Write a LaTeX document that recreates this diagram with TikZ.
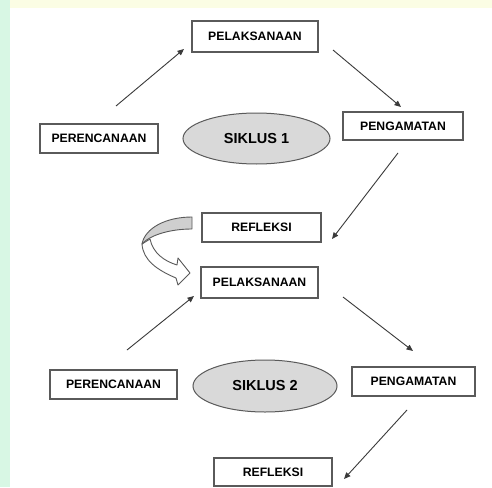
\documentclass[tikz,border=0pt]{standalone}
\usepackage{fontspec}
\setmainfont{Liberation Sans}
\usetikzlibrary{arrows.meta,shapes.geometric}
\definecolor{boxline}{HTML}{5A5A5A}
\definecolor{arrline}{HTML}{3A3A3A}
\definecolor{ellfill}{HTML}{D9D9D9}
\definecolor{topstrip}{HTML}{FBFDE4}
\definecolor{leftstrip}{HTML}{D8F7E4}
\definecolor{ribbon}{HTML}{CFCFCF}
\tikzset{
  stagebox/.style={draw=boxline, line width=1.1pt, fill=white, inner sep=0pt,
    font=\fontsize{12.2}{13}\selectfont\bfseries},
  cycle/.style={ellipse, draw=boxline, line width=1pt, fill=ellfill, inner sep=0pt,
    font=\fontsize{14.5}{16}\selectfont\bfseries},
  flow/.style={draw=arrline, line width=0.9pt, -{Triangle[length=6.5pt,width=5.5pt]}},
  turn/.style={draw=boxline, line width=0.9pt, line join=round}
}
\begin{document}
\begin{tikzpicture}[x=1pt,y=-1pt]
\useasboundingbox (0,0) rectangle (492,487);
\fill[white] (0,0) rectangle (492,487);
\fill[topstrip] (0,0) rectangle (492,8);
\fill[leftstrip] (0,0) rectangle (10,487);

% cycle 1
\node[stagebox, minimum width=126pt, minimum height=31pt] (pel1) at (255,36.5) {PELAKSANAAN};
\node[stagebox, minimum width=118pt, minimum height=29pt] (per1) at (99,138.5) {PERENCANAAN};
\node[stagebox, minimum width=120pt, minimum height=28pt] (peng1) at (403,126) {PENGAMATAN};
\node[stagebox, minimum width=119pt, minimum height=29pt] (ref1) at (261.5,227.5) {REFLEKSI};
\node[cycle, minimum width=147pt, minimum height=51pt] (sik1) at (256.5,138.5) {SIKLUS 1};

% cycle 2
\node[stagebox, minimum width=117pt, minimum height=31pt] (pel2) at (259.5,282.5) {PELAKSANAAN};
\node[stagebox, minimum width=127pt, minimum height=29pt] (per2) at (113.5,384.5) {PERENCANAAN};
\node[stagebox, minimum width=123pt, minimum height=29pt] (peng2) at (413.5,381.5) {PENGAMATAN};
\node[stagebox, minimum width=118pt, minimum height=28pt] (ref2) at (273,472) {REFLEKSI};
\node[cycle, minimum width=144pt, minimum height=52pt] (sik2) at (265,386) {SIKLUS 2};

% arrow end points
\coordinate (a1s) at (116,106); \coordinate (a1e) at (184,49);
\coordinate (a2s) at (333,50);  \coordinate (a2e) at (401,107);
\coordinate (a3s) at (398,153); \coordinate (a3e) at (332,239);
\coordinate (a4s) at (127,350); \coordinate (a4e) at (194,296);
\coordinate (a5s) at (343,297); \coordinate (a5e) at (413,351);
\coordinate (a6s) at (407,410); \coordinate (a6e) at (344,479);

\draw[flow] (a1s) -- (a1e);
\draw[flow] (a2s) -- (a2e);
\draw[flow] (a3s) -- (a3e);
\draw[flow] (a4s) -- (a4e);
\draw[flow] (a5s) -- (a5e);
\draw[flow] (a6s) -- (a6e);

% curved block arrow from REFLEKSI 1 to PELAKSANAAN 2
\draw[turn, fill=white]
  (142,244) .. controls (143,260) and (157,270) .. (176,278)
  -- (178,285) -- (190,273) -- (178,258) -- (177,265)
  .. controls (164,261) and (153,253) .. (150,239) -- cycle;
\draw[turn, fill=ribbon]
  (192,217) .. controls (166,217) and (145,228) .. (142,244)
  .. controls (150,235) and (170,229) .. (192,229) -- cycle;
\end{tikzpicture}
\end{document}
